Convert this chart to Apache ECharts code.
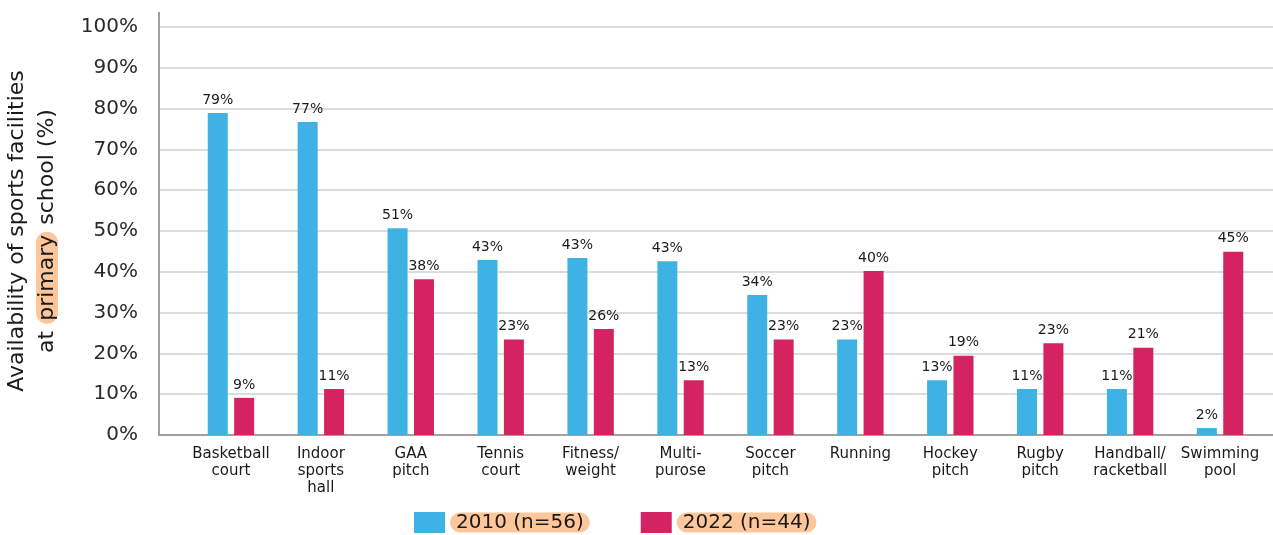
<!DOCTYPE html>
<html>
<head>
<meta charset="utf-8">
<script src="https://cdn.jsdelivr.net/npm/echarts@6/dist/echarts.min.js"></script>
<style>
  html, body { margin: 0; padding: 0; background: #fff; }
  #chart { width: 1273px; height: 535px; }
</style>
</head>
<body>
<div id="chart"></div>
<script>
// Sports facilities available at primary schools, 2010 vs 2022
const categories = [
  'Basketball\ncourt', 'Indoor\nsports\nhall', 'GAA\npitch', 'Tennis\ncourt',
  'Fitness/\nweight', 'Multi-\npurose', 'Soccer\npitch', 'Running',
  'Hockey\npitch', 'Rugby\npitch', 'Handball/\nracketball', 'Swimming\npool'
];
const seriesNames = ['2010 (n=56)', '2022 (n=44)'];
const values2010 = [78.9, 76.7, 50.7, 42.9, 43.4, 42.6, 34.3, 23.4, 13.4, 11.3, 11.3, 1.7];
const values2022 = [9.1, 11.3, 38.2, 23.4, 26.0, 13.4, 23.4, 40.2, 19.4, 22.5, 21.4, 44.9];
const yTicks = { min: 0, max: 100, interval: 10 };

const FONT = 'DejaVu Sans';
const BLUE = '#3FB2E5';
const RED = '#D42360';
const PEACH = '#FFC699';
const AXIS_GREY = '#A0A0A0';
const INK = '#1a1a1a';

const chart = echarts.init(document.getElementById('chart'));

const valueLabel = {
  show: true,
  position: 'top',
  distance: 6,
  fontFamily: FONT,
  fontSize: 14,
  color: INK,
  formatter: p => Math.round(p.value) + '%'
};

chart.setOption({
  animation: false,
  textStyle: { fontFamily: FONT },
  grid: [
    // frame: gridlines, y labels and axis lines
    { left: 159, right: 0, top: 27, bottom: 100, outerBoundsMode: 'none' },
    // bars and category labels
    { left: 186, width: 1079, top: 27, bottom: 100, outerBoundsMode: 'none' }
  ],
  xAxis: [
    {
      gridIndex: 0, type: 'value', min: 0, max: 1,
      axisLine: { show: true, lineStyle: { color: AXIS_GREY, width: 2 } },
      axisTick: { show: false }, axisLabel: { show: false }, splitLine: { show: false }
    },
    {
      gridIndex: 1, type: 'category', data: categories,
      axisLine: { show: false }, axisTick: { show: false },
      axisLabel: {
        interval: 0, margin: 11, fontFamily: FONT, fontSize: 15,
        lineHeight: 16.7, color: INK, align: 'center'
      }
    }
  ],
  yAxis: [
    {
      gridIndex: 0, type: 'value',
      min: yTicks.min, max: yTicks.max, interval: yTicks.interval,
      axisLine: { show: true, lineStyle: { color: AXIS_GREY, width: 2 } },
      axisTick: { show: false },
      axisLabel: {
        margin: 21, fontFamily: FONT, fontSize: 20, color: '#2a2a2a',
        formatter: v => v + '%'
      },
      splitLine: { show: true, lineStyle: { color: '#DCDCDC', width: 2 } },
      name: '{t|Availability of sports facilities}\n{t|at }{h|primary}{t| school (%)}',
      nameLocation: 'middle',
      nameGap: 97,
      nameTextStyle: {
        fontFamily: FONT, fontSize: 22, color: INK, lineHeight: 30,
        rich: {
          t: { fontFamily: FONT, fontSize: 22, color: INK, lineHeight: 30 },
          h: {
            fontFamily: FONT, fontSize: 22, color: INK, lineHeight: 30,
            backgroundColor: PEACH, borderRadius: 12, padding: [0, 3]
          }
        }
      }
    },
    {
      gridIndex: 1, type: 'value',
      min: yTicks.min, max: yTicks.max, interval: yTicks.interval,
      show: false, splitLine: { show: false }
    }
  ],
  legend: {
    left: 414, top: 512, padding: 0,
    itemWidth: 31, itemHeight: 21, itemGap: 51,
    icon: 'rect',
    data: seriesNames,
    formatter: '{h|{name}}',
    textStyle: {
      fontFamily: FONT, fontSize: 20, color: INK,
      rich: {
        h: {
          fontFamily: FONT, fontSize: 20, color: INK, lineHeight: 26,
          backgroundColor: PEACH, borderRadius: 12, padding: [0, 6, 0, 6]
        }
      }
    }
  },
  graphic: [
    // short stub of the value axis above the 100% line
    {
      type: 'line', z: 10,
      shape: { x1: 159, y1: 12, x2: 159, y2: 28 },
      style: { stroke: AXIS_GREY, lineWidth: 2 }
    }
  ],
  series: [
    {
      name: seriesNames[0], type: 'bar', xAxisIndex: 1, yAxisIndex: 1,
      data: values2010, barWidth: 20, barGap: '32%',
      itemStyle: { color: BLUE }, label: valueLabel
    },
    {
      name: seriesNames[1], type: 'bar', xAxisIndex: 1, yAxisIndex: 1,
      data: values2022, barWidth: 20, barGap: '32%',
      itemStyle: { color: RED }, label: valueLabel
    }
  ]
});
</script>
</body>
</html>
